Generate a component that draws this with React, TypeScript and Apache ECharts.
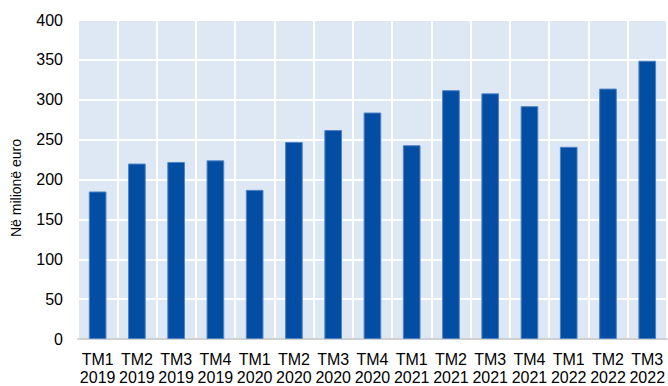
import React, { useEffect, useRef } from "react";
import * as echarts from "echarts";

const categories = [
  "TM1\n2019", "TM2\n2019", "TM3\n2019", "TM4\n2019",
  "TM1\n2020", "TM2\n2020", "TM3\n2020", "TM4\n2020",
  "TM1\n2021", "TM2\n2021", "TM3\n2021", "TM4\n2021",
  "TM1\n2022", "TM2\n2022", "TM3\n2022",
];
const values = [185, 220, 222, 224, 187, 247, 262, 284, 243, 312, 308, 292, 241, 314, 349];
const yAxisName = "Në milionë euro";

const FONT = "Liberation Sans, Arial, sans-serif";

export default function App() {
  const ref = useRef<HTMLDivElement>(null);
  useEffect(() => {
    if (!ref.current) return;
    const chart = echarts.init(ref.current, null, { renderer: "svg" });
    chart.setOption({
      animation: false,
      grid: {
        left: 78, right: 0, top: 20, bottom: 43,
        show: true, backgroundColor: "#dde8f4", borderWidth: 0,
      },
      graphic: [
        {
          type: "text",
          x: 16,
          y: 188,
          rotation: Math.PI / 2,
          style: {
            text: yAxisName,
            fill: "#000",
            fontSize: 14,
            fontFamily: FONT,
            align: "center",
            verticalAlign: "middle",
          },
        },
      ],
      xAxis: {
        type: "category",
        data: categories,
        axisLine: { show: true, lineStyle: { color: "#d0d0d0", width: 2 } },
        axisTick: { show: false },
        splitLine: { show: true, interval: 0, lineStyle: { color: "#ffffff", width: 2 } },
        axisLabel: {
          interval: 0, color: "#000", fontSize: 16, fontFamily: FONT,
          lineHeight: 18, margin: 11,
        },
      },
      yAxis: {
        type: "value",
        min: 0, max: 400, interval: 50,
        axisLine: { show: false },
        axisTick: { show: false },
        splitLine: { show: true, lineStyle: { color: "#ffffff", width: 2 } },
        axisLabel: { color: "#000", fontSize: 16, fontFamily: FONT, margin: 15 },
      },
      series: [
        {
          type: "bar",
          data: values,
          barWidth: "45%",
          itemStyle: { color: "#034ea2", borderColor: "#4f84c8", borderWidth: 1 },
        },
      ],
    });
    return () => chart.dispose();
  }, []);
  return <div ref={ref} style={{ width: 668, height: 386, position: "absolute", left: 0, top: 0 }} />;
}
